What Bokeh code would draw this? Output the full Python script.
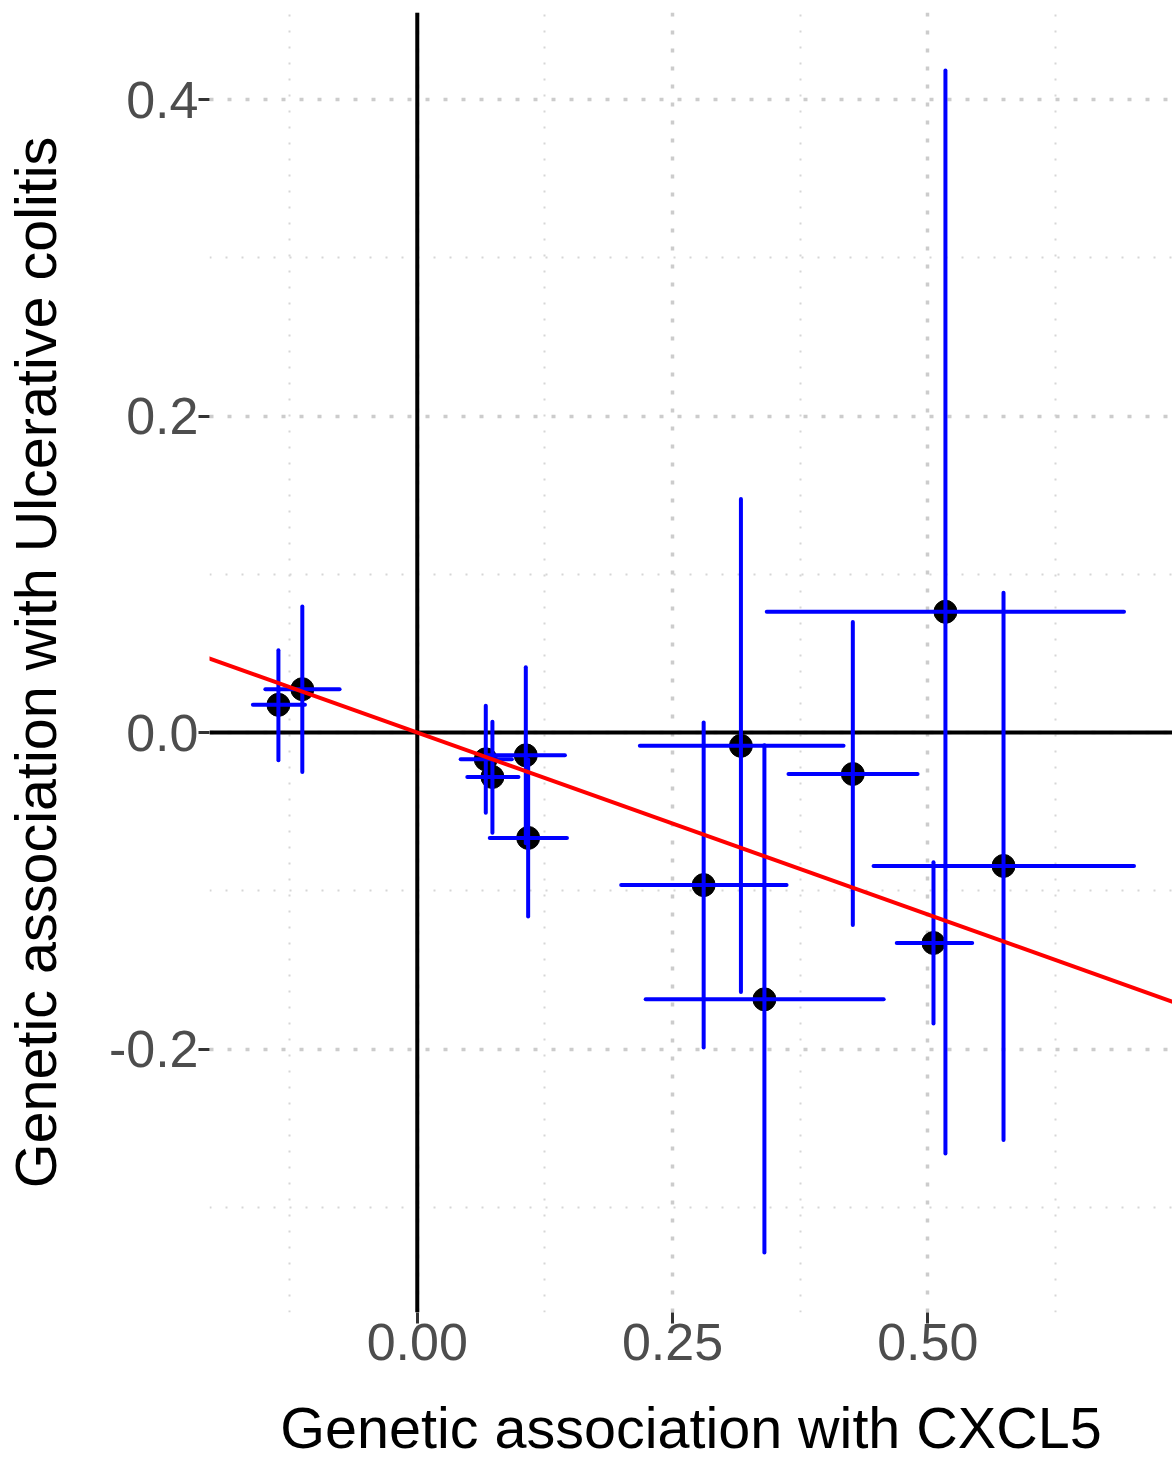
from bokeh.plotting import figure
from bokeh.models import Range1d, FixedTicker, Span, Slope, ColumnDataSource, PrintfTickFormatter
from bokeh.embed import file_html
from bokeh.resources import INLINE

# ---- data ----
bx = [-0.1360, -0.1126, 0.0671, 0.0736, 0.1063, 0.1086, 0.2805, 0.3170, 0.3400, 0.4266, 0.5056, 0.5173, 0.5742]
by = [0.0175, 0.0274, -0.0169, -0.0281, -0.0144, -0.0666, -0.0964, -0.0084, -0.1686, -0.0262, -0.1330, 0.0763, -0.0843]
bx_lo = [-0.1610, -0.1488, 0.0425, 0.0490, 0.0685, 0.0710, 0.1997, 0.2180, 0.2237, 0.3636, 0.4696, 0.3423, 0.4469]
bx_hi = [-0.1100, -0.0761, 0.0926, 0.0991, 0.1446, 0.1466, 0.3617, 0.4175, 0.4568, 0.4900, 0.5435, 0.6922, 0.7020]
by_lo = [-0.0175, -0.0249, -0.0507, -0.0634, -0.0700, -0.1163, -0.1990, -0.1640, -0.3286, -0.1217, -0.1838, -0.2660, -0.2575]
by_hi = [0.0520, 0.0796, 0.0169, 0.0068, 0.0412, -0.0170, 0.0063, 0.1476, -0.0081, 0.0698, -0.0820, 0.4183, 0.0883]
ivw_slope = -0.23

x_ticks = [0.0, 0.25, 0.5]
x_tick_labels = ["0.00", "0.25", "0.50"]
x_minor = [-0.125, 0.125, 0.375, 0.625]
y_ticks = [-0.2, 0.0, 0.2, 0.4]
y_tick_labels = ["-0.2", "0.0", "0.2", "0.4"]
y_minor = [-0.3, -0.1, 0.1, 0.3]

x_title = "Genetic association with CXCL5"
y_title = "Genetic association with Ulcerative colitis"

src = ColumnDataSource(dict(x=bx, y=by, xlo=bx_lo, xhi=bx_hi, ylo=by_lo, yhi=by_hi))

p = figure(width=1172, height=1463,
           x_range=Range1d(-0.2035, 0.7397), y_range=Range1d(-0.3665, 0.455),
           output_backend="svg", toolbar_location=None,
           min_border_left=208, min_border_right=0, min_border_top=12, min_border_bottom=151,
           background_fill_color="white", border_fill_color="white")
p.outline_line_color = None

p.xaxis.ticker = FixedTicker(ticks=x_ticks, minor_ticks=x_minor)
p.yaxis.ticker = FixedTicker(ticks=y_ticks, minor_ticks=y_minor)
p.xaxis.formatter = PrintfTickFormatter(format="%.2f")
p.yaxis.formatter = PrintfTickFormatter(format="%.1f")
p.xaxis.major_label_overrides = {t: l for t, l in zip(x_ticks, x_tick_labels)}
p.yaxis.major_label_overrides = {t: l for t, l in zip(y_ticks, y_tick_labels)}
p.xaxis.axis_label = x_title
p.yaxis.axis_label = y_title

for ax in (p.xaxis[0], p.yaxis[0]):
    ax.axis_line_color = None
    ax.major_tick_line_color = "#333333"
    ax.major_tick_line_width = 3
    ax.major_tick_in = 0
    ax.major_tick_out = 11
    ax.minor_tick_line_color = None
    ax.major_label_text_font = "Liberation Sans"
    ax.major_label_text_font_size = "52px"
    ax.major_label_text_color = "#4D4D4D"
    ax.axis_label_text_font = "Liberation Sans"
    ax.axis_label_text_font_size = "57.5px"
    ax.axis_label_text_font_style = "normal"
    ax.axis_label_text_color = "black"

p.xaxis.major_label_standoff = 0
p.yaxis.major_label_standoff = 0
p.xaxis.axis_label_standoff = 33
p.yaxis.axis_label_standoff = 38

for g in (p.xgrid[0], p.ygrid[0]):
    g.grid_line_color = "#CCCCCC"
    g.grid_line_width = 3.5
    g.grid_line_dash = "4 14"
    g.minor_grid_line_color = "#D6D6D6"
    g.minor_grid_line_width = 2
    g.minor_grid_line_dash = "2 14"
p.xgrid.ticker = p.xaxis.ticker
p.ygrid.ticker = p.yaxis.ticker

p.add_layout(Span(location=0, dimension="height", line_color="black", line_width=4, level="underlay"))
p.add_layout(Span(location=0, dimension="width", line_color="black", line_width=4, level="underlay"))

p.scatter("x", "y", source=src, size=23, color="black")
p.segment(x0="xlo", y0="y", x1="xhi", y1="y", source=src, line_color="#0000FF", line_width=4, line_cap="round")
p.segment(x0="x", y0="ylo", x1="x", y1="yhi", source=src, line_color="#0000FF", line_width=4, line_cap="round")

p.add_layout(Slope(gradient=ivw_slope, y_intercept=0, line_color="#FF0000", line_width=4))

open("out.html", "w").write(file_html(p, INLINE))
